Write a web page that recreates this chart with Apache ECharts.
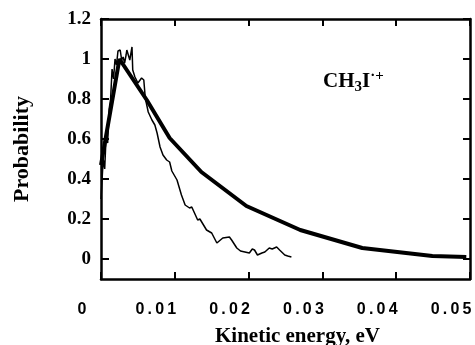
<!DOCTYPE html>
<html lang="en">
<head>
    <meta charset="UTF-8">
    <title>CH3I+ kinetic energy</title>
    <script src="https://cdn.jsdelivr.net/npm/echarts@6/dist/echarts.min.js"></script>
</head>
<body style="margin:0">
<div id="showbox" style="width:475px; height:345px;"></div>
</body>
<script type="text/javascript">
    // measured distribution (thin noisy line): [kinetic energy eV, probability]
    var expData = [
        [0, 0.3], [0.0003, 0.5], [0.0005, 0.45], [0.0007, 0.62], [0.0009, 0.58],
        [0.0011, 0.75], [0.0013, 0.8], [0.0015, 0.95], [0.0017, 0.9], [0.0019, 1.0],
        [0.0021, 0.97], [0.0023, 1.04], [0.0026, 1.045], [0.0028, 0.995], [0.003, 1.01],
        [0.0032, 0.98], [0.0034, 1.02], [0.0035, 1.045], [0.0037, 1.055], [0.0039, 0.995],
        [0.0042, 1.06], [0.0043, 0.945], [0.0046, 0.91], [0.005, 0.88], [0.0055, 0.905],
        [0.0058, 0.895], [0.006, 0.805], [0.0064, 0.735], [0.0069, 0.695], [0.0073, 0.67],
        [0.0076, 0.63], [0.008, 0.56], [0.0084, 0.52], [0.0089, 0.495], [0.0093, 0.485],
        [0.0096, 0.44], [0.0103, 0.395], [0.0109, 0.32], [0.0114, 0.27], [0.012, 0.255],
        [0.0123, 0.26], [0.0131, 0.195], [0.0134, 0.2], [0.0143, 0.145], [0.015, 0.13],
        [0.0157, 0.08], [0.0165, 0.105], [0.0174, 0.11], [0.0177, 0.095], [0.0184, 0.055],
        [0.0189, 0.04], [0.0195, 0.035], [0.0201, 0.03], [0.0205, 0.05], [0.0208, 0.045],
        [0.0212, 0.02], [0.0218, 0.03], [0.0222, 0.035], [0.0228, 0.055], [0.0232, 0.05],
        [0.0238, 0.06], [0.0242, 0.045], [0.0249, 0.02], [0.0253, 0.015], [0.0258, 0.01]
    ];
    // model curve (thick line)
    var modelData = [
        [0, 0.47], [0.0025, 1.0], [0.0062, 0.795], [0.0093, 0.605], [0.0136, 0.435],
        [0.0197, 0.265], [0.027, 0.145], [0.0354, 0.055], [0.0449, 0.015], [0.0495, 0.01]
    ];
    var yTicks = [0, 0.2, 0.4, 0.6, 0.8, 1, 1.2];

    var serif = 'Liberation Serif';
    var axisLine = {show: true, onZero: false, lineStyle: {color: '#000', width: 2.5}};
    var tickStyle = {color: '#000', width: 2};

    var chart = echarts.init(document.getElementById("showbox"));
    chart.setOption({
        animation: false,
        backgroundColor: '#fff',
        title: {
            text: '{a|CH}{b|3}{a|I}{c|·+}',
            left: 318,
            top: 64,
            textStyle: {
                rich: {
                    a: {fontFamily: serif, fontWeight: 'bold', fontSize: 21, color: '#000', lineHeight: 26, verticalAlign: 'middle'},
                    b: {fontFamily: serif, fontWeight: 'bold', fontSize: 15, color: '#000', lineHeight: 26, verticalAlign: 'bottom', padding: [9, 0, 0, 0]},
                    c: {fontFamily: serif, fontWeight: 'bold', fontSize: 15, color: '#000', lineHeight: 26, verticalAlign: 'top', padding: [0, 0, 10, 0]}
                }
            }
        },
        grid: {left: 101, top: 19, right: 5, bottom: 66, outerBoundsMode: 'none', containLabel: false},
        xAxis: [
            {
                type: 'value', min: 0, max: 0.05, interval: 0.01, position: 'bottom',
                splitLine: {show: false},
                axisLine: axisLine,
                axisTick: {show: true, inside: true, length: 7, lineStyle: tickStyle},
                axisLabel: {
                    margin: 23,
                    fontFamily: 'Liberation Sans', fontWeight: 'bold', fontSize: 16, color: '#000',
                    padding: [0, 38, 0, 0],
                    formatter: function (v) { return String(v).split('').join('\u2009'); }
                },
                name: 'Kinetic energy, eV',
                nameLocation: 'middle',
                nameGap: 47,
                nameTextStyle: {fontFamily: serif, fontWeight: 'bold', fontSize: 21, color: '#000', padding: [0, 0, 0, 24]}
            },
            {
                type: 'value', min: 0, max: 0.05, interval: 0.01, position: 'top',
                splitLine: {show: false},
                axisLine: axisLine,
                axisTick: {show: true, inside: true, length: 7, lineStyle: tickStyle},
                axisLabel: {show: false}
            }
        ],
        yAxis: [
            {
                type: 'value', min: -0.1, max: 1.2, position: 'left',
                splitLine: {show: false},
                axisLine: axisLine,
                axisTick: {show: true, inside: true, length: 8, customValues: yTicks, lineStyle: tickStyle},
                axisLabel: {
                    customValues: yTicks, margin: 10,
                    fontFamily: serif, fontWeight: 'bold', fontSize: 19, color: '#000'
                },
                name: 'Probability',
                nameLocation: 'middle',
                nameRotate: 90,
                nameGap: 68,
                nameTextStyle: {fontFamily: serif, fontWeight: 'bold', fontSize: 22, color: '#000'}
            },
            {
                type: 'value', min: -0.1, max: 1.2, position: 'right',
                splitLine: {show: false},
                axisLine: axisLine,
                axisTick: {show: true, inside: true, length: 7, customValues: yTicks, lineStyle: tickStyle},
                axisLabel: {show: false}
            }
        ],
        series: [
            {
                name: 'experiment',
                type: 'line',
                data: expData,
                showSymbol: false,
                lineStyle: {color: '#000', width: 1.5}
            },
            {
                name: 'model',
                type: 'line',
                data: modelData,
                showSymbol: false,
                lineStyle: {color: '#000', width: 4}
            }
        ]
    });
</script>
</html>
